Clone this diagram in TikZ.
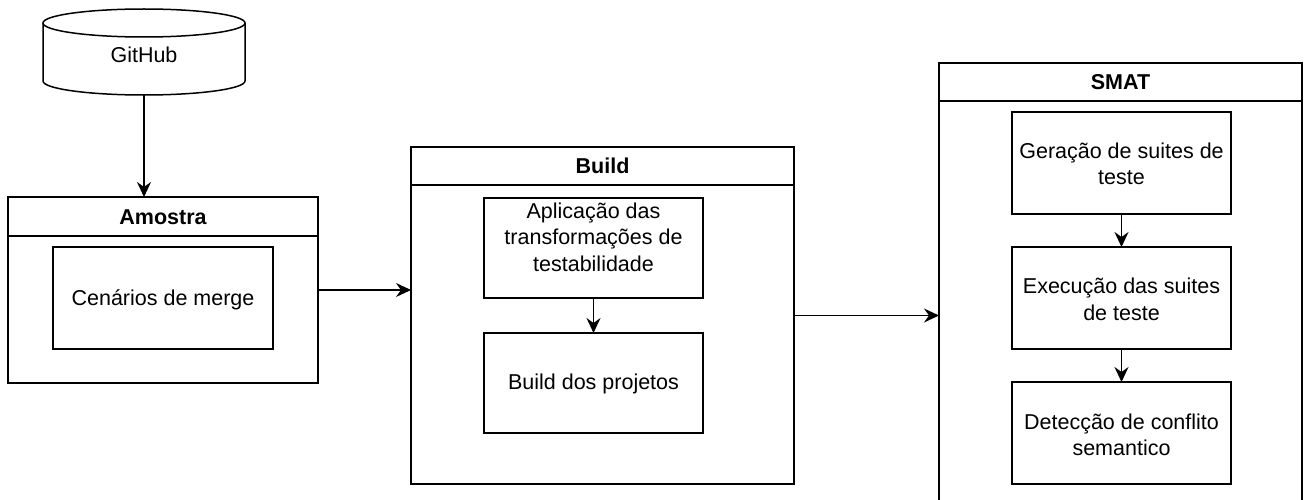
\documentclass[tikz,border=0pt]{standalone}
\usepackage{fontspec}
\setmainfont{Liberation Sans}
\usetikzlibrary{arrows.meta}
\begin{document}
\begin{tikzpicture}[x=1pt,y=-1pt,
  every node/.style={font=\fontsize{21.5}{26.5}\selectfont, inner sep=0pt, outer sep=0pt},
  frame/.style={draw, line width=1.5pt, rectangle},
  txt/.style={align=center},
  ttl/.style={font=\fontsize{21.5}{26.5}\selectfont\bfseries},
  arr/.style={line width=1.5pt, -{Stealth[length=15pt,width=14pt,inset=5pt]}},
  ln/.style={line width=1.5pt}]
\useasboundingbox (0,0) rectangle (1305,500);
\clip (0,0) rectangle (1305,500);
% GitHub cylinder
\node[minimum width=202pt, minimum height=86pt] (github) at (144,52) {};
\draw[ln] (144,23) ellipse [x radius=101pt, y radius=14pt];
\draw[ln] (43,23) -- (43,81) arc[start angle=180, end angle=360, x radius=101pt, y radius=14pt] -- (245,23);
\node[txt] (githubT) at (144,55) {GitHub};
% Amostra
\node[frame, minimum width=310pt, minimum height=186pt] (amostra) at (163,290) {};
\draw[ln] (8,236) -- (318,236);
\node[ttl] (amostraT) at (163,217) {Amostra};
\node[frame, minimum width=220pt, minimum height=102pt] (cenarios) at (163,298) {};
\node[txt] (cenariosT) at (163,300) {Cenários de merge};
% Build
\node[frame, minimum width=383pt, minimum height=337pt] (build) at (602.5,315.5) {};
\draw[ln] (411,185) -- (794,185);
\node[ttl] (buildT) at (602.5,166) {Build};
\node[frame, minimum width=219pt, minimum height=100pt] (aplic) at (593.5,248) {};
\node[txt] (aplicT) at (593.5,237) {Aplicação das\\transformações de\\testabilidade};
\node[frame, minimum width=219pt, minimum height=100pt] (bproj) at (593.5,383) {};
\node[txt] (bprojT) at (593.5,384) {Build dos projetos};
% SMAT
\node[frame, minimum width=363pt, minimum height=467pt] (smat) at (1120.5,296.5) {};
\draw[ln] (939,101) -- (1302,101);
\node[ttl] (smatT) at (1120.5,82) {SMAT};
\node[frame, minimum width=219pt, minimum height=102pt] (gera) at (1121.5,163) {};
\node[txt] (geraT) at (1121.5,164) {Geração de suites de\\teste};
\node[frame, minimum width=219pt, minimum height=102pt] (exec) at (1121.5,298) {};
\node[txt] (execT) at (1121.5,299.5) {Execução das suites\\de teste};
\node[frame, minimum width=219pt, minimum height=102pt] (detec) at (1121.5,433) {};
\node[txt] (detecT) at (1121.5,435) {Detecção de conflito\\semantico};
% connectors
\draw[arr] (github.south) -- (github.south |- amostra.north);
\draw[arr] (amostra.east) -- (amostra.east -| build.west);
\draw[arr] (aplic.south) -- (bproj.north);
\draw[arr] (build.east) -- (build.east -| smat.west);
\draw[arr] (gera.south) -- (exec.north);
\draw[arr] (exec.south) -- (detec.north);
\end{tikzpicture}
\end{document}
